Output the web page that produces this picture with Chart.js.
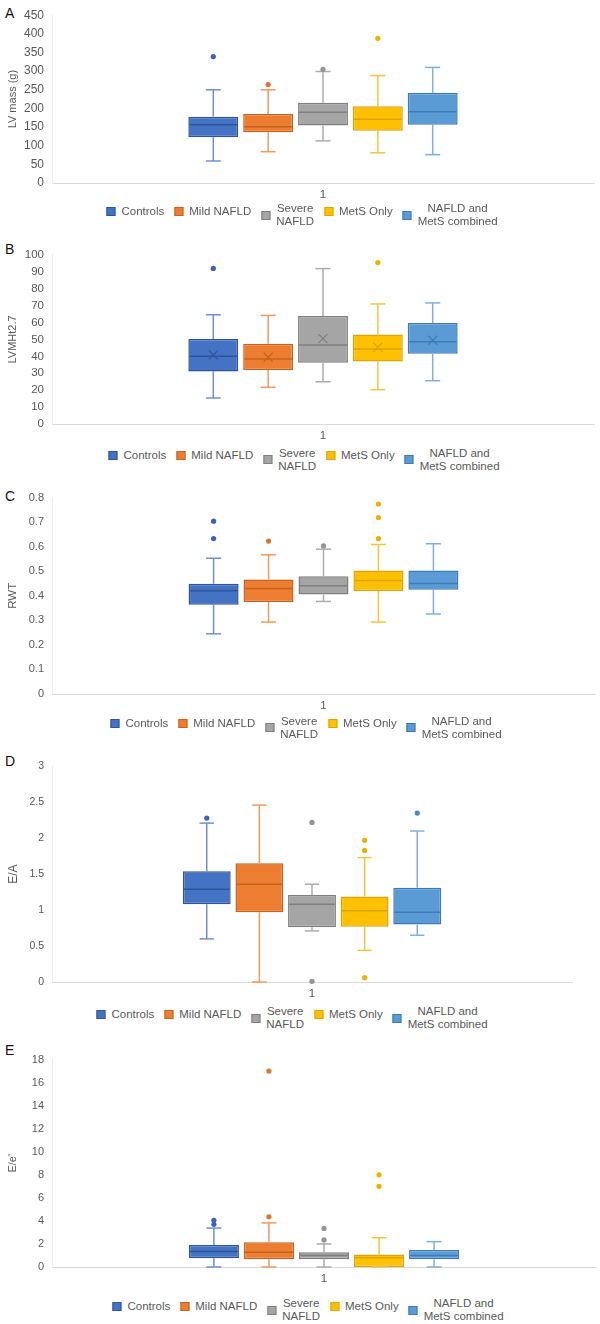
<!DOCTYPE html>
<html>
<head>
<meta charset="utf-8">
<script src="https://cdn.jsdelivr.net/npm/chart.js@4.4.1/dist/chart.umd.min.js"></script>
<style>
  body { margin: 0; background: #fff; font-family: "Liberation Sans", Arial, sans-serif; }
  #wrap { position: relative; width: 600px; height: 1324px; overflow: hidden; background: #fff; }
  .letter { position: absolute; left: 5px; font-size: 14px; line-height: 14px; color: #111; }
  canvas { position: absolute; left: 0; }
  .legend { position: absolute; display: flex; align-items: flex-start; transform: translateX(-50%);
            white-space: nowrap; font-size: 11.5px; line-height: 13px; color: #595959; }
  .item { display: flex; align-items: center; margin: 0 5px; }
  .item.one { margin-top: 2.5px; }
  .sw { width: 9px; height: 9px; margin-right: 6px; box-sizing: border-box; border: 1px solid; }
  .txt { text-align: center; }
</style>
</head>
<body>
<div id="wrap"></div>
<script>
// groups (one box each, same order in every panel)
const groups = ['Controls', 'Mild NAFLD', 'Severe NAFLD', 'MetS Only', 'NAFLD and MetS combined'];
const legendLines = [['Controls'], ['Mild NAFLD'], ['Severe', 'NAFLD'], ['MetS Only'], ['NAFLD and', 'MetS combined']];

// A - LV mass (g)
const lvMin = [59, 84, 113, 81, 76];
const lvQ1  = [123, 136, 154, 140, 156];
const lvMed = [156, 151, 190, 171, 191];
const lvQ3  = [178, 185, 215, 206, 242];
const lvMax = [250, 250, 299, 288, 310];
const lvOut = [[339], [264], [305], [388], []];

// B - LVMHt2.7
const lvmhMin  = [15.4, 21.7, 25.0, 20.3, 25.6];
const lvmhQ1   = [31.1, 32.0, 36.2, 36.9, 41.6];
const lvmhMed  = [40.1, 38.4, 46.7, 44.3, 48.6];
const lvmhQ3   = [50.3, 47.5, 63.8, 52.9, 59.7];
const lvmhMax  = [64.6, 64.2, 91.9, 71.0, 71.6];
const lvmhMean = [40.9, 39.5, 50.5, 45.4, 49.5];
const lvmhOut  = [[92], [], [], [95.5], []];

// C - RWT
const rwtMin = [0.245, 0.293, 0.377, 0.293, 0.326];
const rwtQ1  = [0.364, 0.375, 0.405, 0.420, 0.425];
const rwtMed = [0.421, 0.430, 0.441, 0.462, 0.450];
const rwtQ3  = [0.449, 0.466, 0.480, 0.503, 0.503];
const rwtMax = [0.553, 0.567, 0.590, 0.609, 0.612];
const rwtOut = [[0.704, 0.633], [0.623], [0.603], [0.774, 0.719, 0.633], []];

// D - E/A
const eaMin = [0.60, 0, 0.71, 0.44, 0.65];
const eaQ1  = [1.08, 0.97, 0.76, 0.77, 0.80];
const eaMed = [1.29, 1.36, 1.08, 0.99, 0.97];
const eaQ3  = [1.54, 1.65, 1.21, 1.19, 1.31];
const eaMax = [2.21, 2.46, 1.36, 1.73, 2.10];
const eaOut = [[2.28], [], [2.22, 0.01], [1.97, 1.83, 0.06], [2.35]];

// E - E/e'
const eeMin = [0, 0, 0, 0, 0];
const eeQ1  = [0.75, 0.67, 0.67, 0, 0.67];
const eeMed = [1.34, 1.28, 1.0, 0.81, 1.0];
const eeQ3  = [1.9, 2.15, 1.28, 1.09, 1.48];
const eeMax = [3.38, 3.83, 2.0, 2.54, 2.2];
const eeOut = [[4.05, 3.7], [17.0, 4.36], [3.35, 2.35], [8.0, 7.0], []];

// office-ish colours
const fills = ['#4472C4', '#ED7D31', '#A5A5A5', '#FFC000', '#5B9BD5'];
const edges = ['#2F5597', '#C5631F', '#7F7F7F', '#DDA500', '#3D7CBA'];
const whisk = ['#6F8FD3', '#F09A5E', '#ABABAB', '#F3C53F', '#7FB0DD'];
const dots  = ['#3B64B4', '#E0742C', '#949494', '#F0B000', '#4A88C8'];

const panels = [
  { letter: 'A', title: 'LV mass (g)', max: 450, step: 50, min: lvMin, q1: lvQ1, med: lvMed, q3: lvQ3, hi: lvMax, out: lvOut,
    top: 8, zero: 183, padR: 6, legTop: 202, legX: 302, letterTop: 6, tick: 12, ttl: 11 },
  { letter: 'B', title: 'LVMHt2.7', max: 100, step: 10, min: lvmhMin, q1: lvmhQ1, med: lvmhMed, q3: lvmhQ3, hi: lvmhMax, out: lvmhOut, mean: lvmhMean,
    top: 247.5, zero: 424, padR: 6, legTop: 446.5, legX: 304, letterTop: 242, tick: 11.5, ttl: 11 },
  { letter: 'C', title: 'RWT', max: 0.8, step: 0.1, min: rwtMin, q1: rwtQ1, med: rwtMed, q3: rwtQ3, hi: rwtMax, out: rwtOut,
    top: 491, zero: 694, padR: 5, legTop: 714.5, legX: 306, letterTop: 489, tick: 11, ttl: 11.5 },
  { letter: 'D', title: 'E/A', max: 3, step: 0.5, min: eaMin, q1: eaQ1, med: eaMed, q3: eaQ3, hi: eaMax, out: eaOut,
    top: 760, zero: 982, padR: 28, legTop: 1005, legX: 292, letterTop: 754, tick: 10.5, ttl: 12 },
  { letter: 'E', title: "E/e'", max: 18, step: 2, min: eeMin, q1: eeQ1, med: eeMed, q3: eeQ3, hi: eeMax, out: eeOut,
    top: 1053, zero: 1267, padR: 4, legTop: 1297, legX: 308, letterTop: 1043, tick: 11, ttl: 11 }
];

const wrap = document.getElementById('wrap');
const X_H = 22;

function boxPlugin(p) {
  return {
    id: 'boxes',
    afterDatasetsDraw(chart) {
      const ctx = chart.ctx, ys = chart.scales.y;
      const line = (x1, y1, x2, y2) => { ctx.beginPath(); ctx.moveTo(x1, y1); ctx.lineTo(x2, y2); ctx.stroke(); };
      chart.data.datasets.forEach((ds, i) => {
        const bar = chart.getDatasetMeta(i).data[0];
        const x = bar.x, w = bar.width, cap = w * 0.3;
        const yLo = ys.getPixelForValue(p.min[i]), yHi = ys.getPixelForValue(p.hi[i]);
        const yQ1 = ys.getPixelForValue(p.q1[i]), yQ3 = ys.getPixelForValue(p.q3[i]);
        const yMed = ys.getPixelForValue(p.med[i]);
        ctx.save();
        ctx.lineWidth = 1.5;
        ctx.strokeStyle = whisk[i];
        line(x, yQ3, x, yHi); line(x - cap / 2, yHi, x + cap / 2, yHi);
        line(x, yQ1, x, yLo); line(x - cap / 2, yLo, x + cap / 2, yLo);
        ctx.strokeStyle = edges[i];
        line(x - w / 2 + 1, yMed, x + w / 2 - 1, yMed);
        if (p.mean) {
          const ym = ys.getPixelForValue(p.mean[i]), s = 4.5;
          ctx.lineWidth = 1.2;
          line(x - s, ym - s, x + s, ym + s); line(x - s, ym + s, x + s, ym - s);
        }
        ctx.fillStyle = dots[i];
        p.out[i].forEach(v => {
          ctx.beginPath(); ctx.arc(x, ys.getPixelForValue(v), 2.6, 0, Math.PI * 2); ctx.fill();
        });
        ctx.restore();
      });
    }
  };
}

panels.forEach(p => {
  const letter = document.createElement('div');
  letter.className = 'letter';
  letter.style.top = p.letterTop + 'px';
  letter.textContent = p.letter;
  wrap.appendChild(letter);

  const cTop = Math.round(p.top) - 8;
  const padTop = p.top - cTop;
  const cv = document.createElement('canvas');
  cv.width = 600;
  cv.height = Math.round(p.zero - cTop + X_H);
  cv.style.top = cTop + 'px';
  wrap.appendChild(cv);

  new Chart(cv.getContext('2d'), {
    type: 'bar',
    data: {
      labels: ['1'],
      datasets: groups.map((g, i) => ({
        label: g,
        data: [[p.q1[i], p.q3[i]]],
        backgroundColor: fills[i],
        borderColor: edges[i],
        borderWidth: 1.5,
        borderSkipped: false,
        categoryPercentage: 0.506,
        barPercentage: 0.91
      }))
    },
    options: {
      responsive: false,
      animation: false,
      devicePixelRatio: 1,
      layout: { padding: { top: padTop, right: p.padR, left: 0, bottom: 0 } },
      plugins: { legend: { display: false }, tooltip: { enabled: false } },
      scales: {
        x: {
          grid: { display: false, drawTicks: false },
          border: { display: true, color: '#D9D9D9', width: 1 },
          ticks: { color: '#595959', padding: 5, font: { family: 'Liberation Sans', size: 11.5 } },
          afterFit: s => { s.height = X_H; }
        },
        y: {
          min: 0, max: p.max,
          grid: { display: false, drawTicks: false },
          border: { display: true, color: '#ECECEC', width: 1 },
          ticks: { stepSize: p.step, color: '#595959', padding: 8, font: { family: 'Liberation Sans', size: p.tick },
                   callback: v => String(Math.round(v * 100) / 100) },
          title: { display: true, text: p.title, color: '#595959', padding: { top: 6, bottom: 0 },
                   font: { family: 'Liberation Sans', size: p.ttl } },
          afterFit: s => { s.width = 52; }
        }
      }
    },
    plugins: [boxPlugin(p)]
  });

  // legend under each panel
  const leg = document.createElement('div');
  leg.className = 'legend';
  leg.style.top = p.legTop + 'px';
  leg.style.left = p.legX + 'px';
  legendLines.forEach((lines, i) => {
    const it = document.createElement('div');
    it.className = 'item' + (lines.length === 1 ? ' one' : '');
    it.innerHTML = `<span class="sw" style="background:${fills[i]};border-color:${edges[i]}"></span>` +
                   `<span class="txt">${lines.join('<br>')}</span>`;
    leg.appendChild(it);
  });
  wrap.appendChild(leg);
});
</script>
</body>
</html>
